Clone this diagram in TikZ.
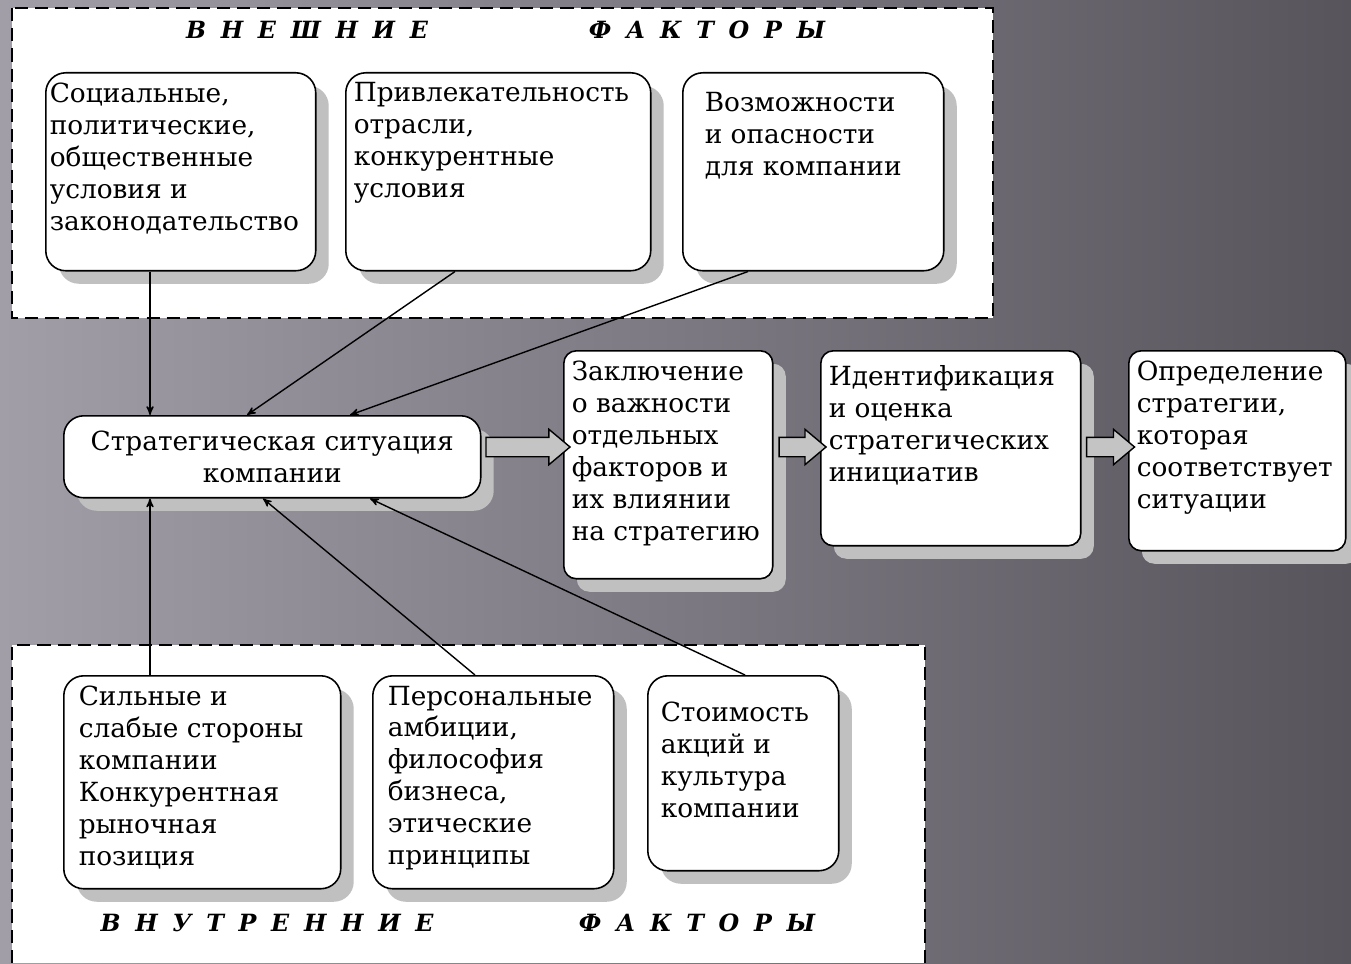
\documentclass[tikz,border=0pt]{standalone}
\usepackage{fontspec}
\setmainfont{DejaVu Serif}
\usetikzlibrary{arrows}
\usetikzlibrary{shadows}
\usetikzlibrary{shapes.arrows}
\definecolor{bgleft}{HTML}{A29EA8}
\definecolor{bgmid}{HTML}{7B7781}
\definecolor{bgright}{HTML}{57545C}
\definecolor{shadowgray}{HTML}{C0C0C0}
\definecolor{arrowgray}{HTML}{C4C4C4}
\newcommand{\factext}[3]{\parbox[t][#2][t]{#1}{\raggedright #3}}
\newcommand{\headfont}{\fontsize{13.5}{16}\selectfont\bfseries\itshape\addfontfeature{LetterSpace=62}}
\tikzset{factor/.style={draw, fill=white, anchor=north west, rounded corners=0.4cm, line width=0.9pt, inner xsep=0.16cm, inner ysep=0.2cm, font=\fontsize{15}{18.2}\selectfont, drop shadow={shadow xshift=0.26cm, shadow yshift=-0.26cm, fill=shadowgray, opacity=1}}}
\tikzset{panel/.style={line width=1.2pt, dash pattern=on 7.5pt off 4pt}}
\tikzset{flow/.style={single arrow, draw, fill=arrowgray, line width=0.8pt, inner xsep=0pt, inner ysep=0.18cm, single arrow head extend=0.16cm, single arrow tip angle=80}}
\tikzset{link/.style={->, line width=0.8pt}}
\tikzset{>=stealth'}

\begin{document}
\begin{tikzpicture}[x=0.02cm, y=-0.02cm]
\useasboundingbox (0,0) rectangle (1351,963);
\shade[left color=bgleft, middle color=bgmid, right color=bgright] (0,0) rectangle (1351,963);

% external factors
\fill[white] (12,8) rectangle (993,318);
\draw[panel] (12,8) rectangle (993,318);
\node[font=\headfont] (extA) at (307,30) {ВНЕШНИЕ};
\node[font=\headfont] (extB) at (707,30) {ФАКТОРЫ};

\node[factor, inner xsep=0.08cm] (soc) at (45,72) {\factext{5.24cm}{3.56cm}{Социальные,\\политические,\\общественные\\условия и\\законодательство}};
\node[factor] (attr) at (345,72) {\factext{5.78cm}{3.56cm}{Привлекательность\\отрасли,\\конкурентные\\условия}};
\node[factor, inner xsep=0.44cm, inner ysep=0.4cm] (opp) at (682,72) {\factext{4.34cm}{3.16cm}{Возможности\\и опасности\\для компании}};

% internal factors
\fill[white] (12,645) rectangle (925,963);
\draw[panel] (12,963) -- (12,645) -- (925,645) -- (925,963);
\node[font=\headfont] (intA) at (267,923) {ВНУТРЕННИЕ};
\node[font=\headfont] (intB) at (697,923) {ФАКТОРЫ};

\node[factor, inner xsep=0.3cm] (strong) at (63,675) {\factext{4.94cm}{3.86cm}{Сильные и\\слабые стороны\\компании\\Конкурентная\\рыночная\\позиция}};
\node[factor, inner xsep=0.3cm] (pers) at (372,675) {\factext{4.22cm}{3.86cm}{Персональные\\амбиции,\\философия\\бизнеса,\\этические\\принципы}};
\node[factor, inner xsep=0.26cm, inner ysep=0.52cm] (cost) at (647,675) {\factext{3.3cm}{2.86cm}{Стоимость\\акций и\\культура\\компании}};

% situation and chain
\node[factor, align=center, minimum width=8.34cm, minimum height=1.64cm] (sit) at (63,415) {Стратегическая ситуация\\компании};
\node[factor, rounded corners=0.25cm] (concl) at (563,350) {\factext{3.86cm}{4.16cm}{Заключение\\о важности\\отдельных\\факторов и\\их влиянии\\на стратегию}};
\node[factor, rounded corners=0.25cm, inner ysep=0.3cm] (ident) at (820,350) {\factext{4.88cm}{3.3cm}{Идентификация\\и оценка\\стратегических\\инициатив}};
\node[factor, rounded corners=0.25cm] (choice) at (1128,350) {\factext{4.02cm}{3.6cm}{Определение\\стратегии,\\которая\\соответствует\\ситуации}};

\path (sit.east |- 0,447) -- node[flow, minimum height=1.68cm] (ar1) {} (concl.west |- 0,447);
\path (concl.east |- 0,447) -- node[flow, minimum height=0.94cm] (ar2) {} (ident.west |- 0,447);
\path (ident.east |- 0,447) -- node[flow, minimum height=0.96cm] (ar3) {} (choice.west |- 0,447);

\draw[link] (soc.south -| 150,0) -- (sit.north -| 150,0);
\draw[link] (attr.south -| 455,0) -- (sit.north -| 247,0);
\draw[link] (opp.south -| 748,0) -- (sit.north -| 350,0);
\draw[link] (strong.north -| 150,0) -- (sit.south -| 150,0);
\draw[link] (pers.north -| 475,0) -- (sit.south -| 263,0);
\draw[link] (cost.north -| 745,0) -- (sit.south -| 370,0);
\end{tikzpicture}
\end{document}
